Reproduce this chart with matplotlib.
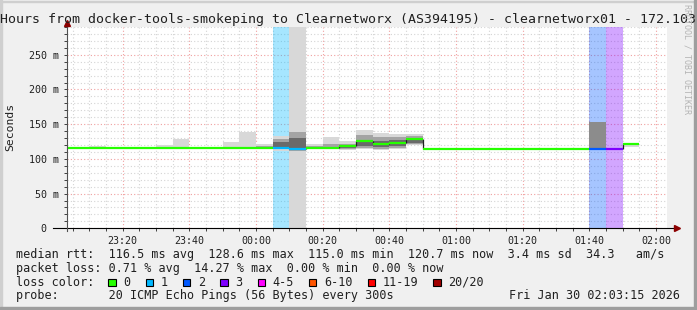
"""Smokeping style latency graph (3 hours, 5 min steps)
"""
import numpy
import matplotlib
matplotlib.use('Agg')
import matplotlib.pyplot as plt
from matplotlib.patches import Rectangle
from matplotlib.ticker import MultipleLocator, FixedLocator, FixedFormatter

nan = numpy.nan

# bins start every 5 minutes, minutes counted from 23:00
BIN_START = numpy.arange(0, 180, 5)
BIN_WIDTH = 5

MEDIAN = [115.4, 115.4, 115.4, 115.3, 115.3, 115.2, 115.2, 115.2, 115.2,
          115.2, 115.3, 115.3, 115.5, 115.7, 114.4, 116.0, 116.3, 119.0,
          126.4, 122.0, 123.5, 129.3, 114.9, 114.9, 114.9, 114.9, 114.9,
          114.9, 114.9, 114.9, 114.9, 114.9, 114.4, 114.4, 121.2, nan]
LOSS = [0, 0, 0, 0, 0, 0, 0, 0, 0, 0, 0, 0, 0, 1, 1, 0, 0, 0,
        0, 0, 0, 0, 0, 0, 0, 0, 0, 0, 0, 0, 0, 0, 2, 3, 0, 0]

# smoke layers (ms), outer light / middle / dark core
SMOKE_LO = {2: 114.5, 6: 114.5, 7: 114.5, 10: 114.5, 11: 114.5, 12: 114.5,
            13: 112.0, 14: 0.0, 15: 114.5, 16: 114.0, 17: 113.0, 18: 114.0,
            19: 113.0, 20: 114.0, 21: 120.0, 34: 117.0}
SMOKE_HI = {2: 118.0, 6: 120.6, 7: 129.0, 10: 124.5, 11: 139.0, 12: 121.6,
            13: 133.0, 14: 300.0, 15: 121.6, 16: 131.0, 17: 126.0, 18: 141.8,
            19: 138.0, 20: 135.6, 21: 135.6, 34: 121.0}
MID_LO = {6: 114.5, 12: 114.5, 13: 114.0, 14: 112.0, 15: 115.0, 16: 115.0,
          17: 114.0, 18: 115.0, 19: 114.0, 20: 115.0, 21: 121.0, 32: 115.0}
MID_HI = {6: 117.0, 12: 118.0, 13: 129.0, 14: 139.0, 15: 118.0, 16: 121.0,
          17: 122.0, 18: 135.0, 19: 132.0, 20: 131.0, 21: 133.0, 32: 153.4}
CORE_LO = {13: 117.0, 14: 116.0, 17: 116.0, 18: 118.0, 19: 117.0, 20: 118.0,
           21: 123.0}
CORE_HI = {13: 124.0, 14: 130.0, 17: 120.0, 18: 124.0, 19: 126.0, 20: 127.0,
           21: 130.0}

TICK_POS = [20, 40, 60, 80, 100, 120, 140, 160, 180]
TICK_LABELS = ['23:20', '23:40', '00:00', '00:20', '00:40', '01:00',
               '01:20', '01:40', '02:00']
Y_TICKS = [0, 50, 100, 150, 200, 250]
Y_LABELS = ['0  ', '50 m', '100 m', '150 m', '200 m', '250 m']

LOSS_NAMES = ['0', '1', '2', '3', '4-5', '6-10', '11-19', '20/20']
LOSS_COLORS = ['#26ff00', '#00b8ff', '#0059ff', '#7e00ff', '#ff00ff',
               '#ff5500', '#ff0000', '#a10000']

TITLE = ('Hours from docker-tools-smokeping to Clearnetworx (AS394195) '
         '- clearnetworx01 - 172.103')
RTT_LINE = ('median rtt:  116.5 ms avg  128.6 ms max  115.0 ms min  '
            '120.7 ms now  3.4 ms sd  34.3   am/s')
LOSS_LINE = 'packet loss: 0.71 % avg  14.27 % max  0.00 % min  0.00 % now'
PROBE_LINE = 'probe:       20 ICMP Echo Pings (56 Bytes) every 300s'
DATE_TEXT = 'Fri Jan 30 02:03:15 2026'

W, H = 697., 310.
MONO = 'DejaVu Sans Mono'


def px(x):
    return x / W


def py(y):
    return 1. - y / H


def draw_layer(ax, lo, hi, color):
    idx = sorted(lo.keys())
    x = [BIN_START[i] for i in idx]
    bottom = [lo[i] for i in idx]
    height = [hi[i] - lo[i] for i in idx]
    ax.bar(x, height, width=BIN_WIDTH, bottom=bottom, align='edge',
           color=color, linewidth=0, zorder=2)


def mkplot():
    fig = plt.figure(figsize=(W / 100., H / 100.), dpi=100)
    fig.patch.set_facecolor('#f0f0f0')
    # shaded frame round the picture
    fig.patches.append(Rectangle((0, 0), px(2), 1, transform=fig.transFigure,
                                 color='#cfcfcf', zorder=0))
    fig.patches.append(Rectangle((0, py(2)), 1, px(2), transform=fig.transFigure,
                                 color='#cfcfcf', zorder=0))
    fig.patches.append(Rectangle((px(694), 0), px(3), 1,
                                 transform=fig.transFigure, color='#9e9e9e',
                                 zorder=0))
    fig.patches.append(Rectangle((0, 0), 1, 3. / H, transform=fig.transFigure,
                                 color='#9e9e9e', zorder=0))

    ax = fig.add_axes([px(66.7), py(228.3), px(600.3), 201.3 / H])
    ax.set_xlim(3.25, 183.25)
    ax.set_ylim(0, 290)
    ax.set_facecolor('white')

    #-------------loss background----------------
    for i, l in enumerate(LOSS):
        if l > 0:
            ax.bar(BIN_START[i], 290, width=BIN_WIDTH, bottom=0, align='edge',
                   color=LOSS_COLORS[l], alpha=0.35, linewidth=0, zorder=1)

    #-------------smoke----------------
    draw_layer(ax, SMOKE_LO, SMOKE_HI, '#d8d8d8')
    draw_layer(ax, MID_LO, MID_HI, '#a4a4a4')
    draw_layer(ax, CORE_LO, CORE_HI, '#6a6a6a')
    # the 01:40 block is a single flat shade
    ax.bar(BIN_START[32], MID_HI[32] - MID_LO[32], width=BIN_WIDTH,
           bottom=MID_LO[32], align='edge', color='#8c8c8c', linewidth=0,
           zorder=2)

    #-------------median----------------
    med = numpy.array(MEDIAN)
    for i in range(1, len(med)):
        if numpy.isfinite(med[i]) and numpy.isfinite(med[i - 1]) \
           and abs(med[i] - med[i - 1]) > 0.6:
            ax.vlines(BIN_START[i], min(med[i], med[i - 1]),
                      max(med[i], med[i - 1]), color='#202020', lw=0.9,
                      zorder=3)
    for i, m in enumerate(med):
        if numpy.isfinite(m):
            ax.hlines(m, BIN_START[i], BIN_START[i] + BIN_WIDTH,
                      color=LOSS_COLORS[LOSS[i]], lw=1.6, zorder=4)

    #-------------grid and axes----------------
    ax.set_axisbelow(True)
    ax.xaxis.set_major_locator(FixedLocator(TICK_POS))
    ax.xaxis.set_major_formatter(FixedFormatter(TICK_LABELS))
    ax.xaxis.set_minor_locator(MultipleLocator(5))
    ax.yaxis.set_major_locator(FixedLocator(Y_TICKS))
    ax.yaxis.set_major_formatter(FixedFormatter(Y_LABELS))
    ax.yaxis.set_minor_locator(MultipleLocator(10))
    ax.grid(which='minor', color='#d4d4d4', linestyle=(0, (1, 2)), lw=0.8)
    ax.grid(which='major', color='#f0a0a0', linestyle=(0, (1, 2)), lw=0.8)
    ax.tick_params(which='both', length=2, width=0.7, color='#404040',
                   direction='out', pad=3.5, labelsize=7.2)
    for lab in ax.get_xticklabels() + ax.get_yticklabels():
        lab.set_family(MONO)
        lab.set_color('#202020')
    for s in ax.spines.values():
        s.set_visible(False)
    ax.plot([-0.9, 185.5], [0, 0], color='black', lw=0.8, clip_on=False,
            zorder=5)
    ax.plot([3.25, 3.25], [-3.5, 295], color='#505050', lw=0.8,
            clip_on=False, zorder=5)
    ax.plot([186.3], [0], marker='>', color='#8b0000', ms=4, clip_on=False,
            zorder=6)
    ax.plot([3.25], [295.5], marker='^', color='#8b0000', ms=4,
            clip_on=False, zorder=6)

    #-------------texts----------------
    fig.text(px(0.5), py(23.3), TITLE, family=MONO, fontsize=9.5,
             ha='left', va='baseline', color='#202020')
    fig.text(px(687.5), py(59), 'RRDTOOL / TOBI OETIKER', family=MONO,
             fontsize=6, rotation=270, ha='center', va='center',
             color='#b4b4b4')
    fig.text(px(10.5), py(127), 'Seconds', family=MONO, fontsize=8.2,
             rotation=90, ha='center', va='center', color='#202020')
    fig.text(px(16), py(258.3), RTT_LINE, family=MONO, fontsize=8.45,
             ha='left', va='baseline', color='#202020')
    fig.text(px(16), py(272), LOSS_LINE, family=MONO, fontsize=8.45,
             ha='left', va='baseline', color='#202020')
    fig.text(px(16), py(285.7), 'loss color:', family=MONO, fontsize=8.45,
             ha='left', va='baseline', color='#202020')
    xb = 108.3
    for name, col in zip(LOSS_NAMES, LOSS_COLORS):
        fig.patches.append(Rectangle((px(xb), py(286)), px(7.3), 7.3 / H,
                                     transform=fig.transFigure,
                                     facecolor=col, edgecolor='black',
                                     lw=0.8, zorder=3))
        fig.text(px(xb + 15), py(285.7), name, family=MONO, fontsize=8.45,
                 ha='left', va='baseline', color='#202020')
        xb += 30.3 + 7.05 * len(name)
    fig.text(px(16), py(299.3), PROBE_LINE, family=MONO, fontsize=8.45,
             ha='left', va='baseline', color='#202020')
    fig.text(px(680), py(299.3), DATE_TEXT, family=MONO, fontsize=8.45,
             ha='right', va='baseline', color='#202020')

    fig.savefig('out.png', dpi=100, facecolor=fig.get_facecolor())


if __name__=='__main__':
    mkplot()
